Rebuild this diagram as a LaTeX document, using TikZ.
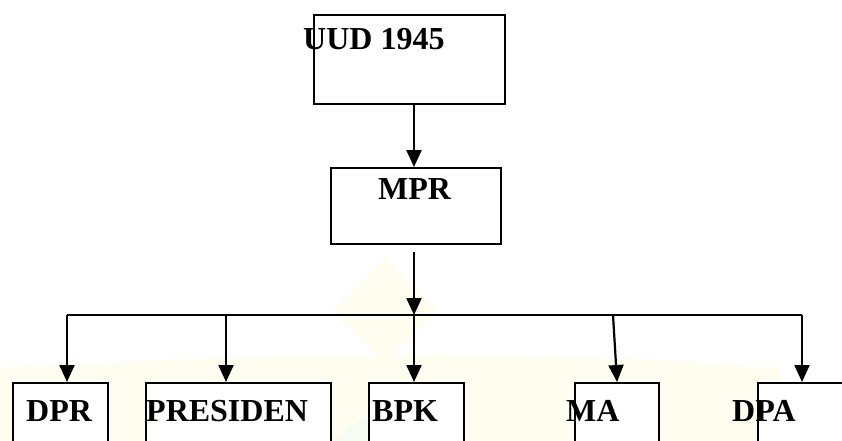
\documentclass[tikz,border=0pt]{standalone}
\usepackage{fontspec}
\setmainfont{Liberation Serif}
\usetikzlibrary{arrows.meta,positioning}
\definecolor{wmyellow}{RGB}{255,253,240}
\definecolor{wmgreen}{RGB}{246,251,244}

\begin{document}
\begin{tikzpicture}[x=1pt,y=-1pt,
  box/.style={draw,line width=2.1pt,fill=white,rectangle,anchor=north west,inner sep=0pt},
  lbl/.style={anchor=base west,inner sep=0pt,font=\fontsize{32}{36}\selectfont\bfseries},
  arr/.style={line width=2.2pt,-{Triangle[length=17pt,width=15pt]}},
  ln/.style={line width=2pt}]
  \useasboundingbox (0,0) rectangle (842,441);
  \clip (0,0) rectangle (842,441);
  \fill[wmyellow] (0,368) .. controls (250,352) and (560,348) .. (780,368) -- (780,441) -- (0,441) -- cycle;
  \fill[wmgreen] (330,441) -- (400,395) -- (420,441) -- cycle;
  \fill[wmyellow] (333,310) -- (385,257) -- (438,310) -- (385,363) -- cycle;

  \node[box,minimum width=191pt,minimum height=89pt] (uud) at (313,14) {};
  \node[lbl] (uudt) at (303,50) {UUD 1945};
  \node[box,minimum width=170pt,minimum height=76pt] (mpr) at (330,167) {};
  \node[lbl] (mprt) at (378,199) {MPR};

  \foreach \nm/\txt/\xl/\bw/\tx in {dpr/DPR/12/95/26, pres/PRESIDEN/145/185/146,
      bpk/BPK/368/95/372, ma/MA/574/84/566, dpa/DPA/757/100/732} {
    \node[box,minimum width=\bw pt,minimum height=90pt] (\nm) at (\xl,382) {};
    \node[lbl] (\nm t) at (\tx,421) {\txt};
  }

  \coordinate (hub) at (414,315);
  \coordinate (mprout) at (414,252);
  \coordinate (bdpr) at (67,315);
  \coordinate (bpres) at (226,315);
  \coordinate (bma) at (613,315);
  \coordinate (bdpa) at (802,315);

  \draw[arr] (uud.south -| hub) -- (mpr.north -| hub);
  \draw[arr] (mprout) -- (hub);
  \draw[ln] (bdpr) -- (bdpa);
  \draw[arr] (hub) -- (bpk.north -| hub);
  \draw[arr] (bdpr) -- (dpr.north -| bdpr);
  \draw[arr] (bpres) -- (pres.north -| bpres);
  \draw[arr] (bma) -- (ma.north);
  \draw[arr] (bdpa) -- (dpa.north -| bdpa);
\end{tikzpicture}
\end{document}
